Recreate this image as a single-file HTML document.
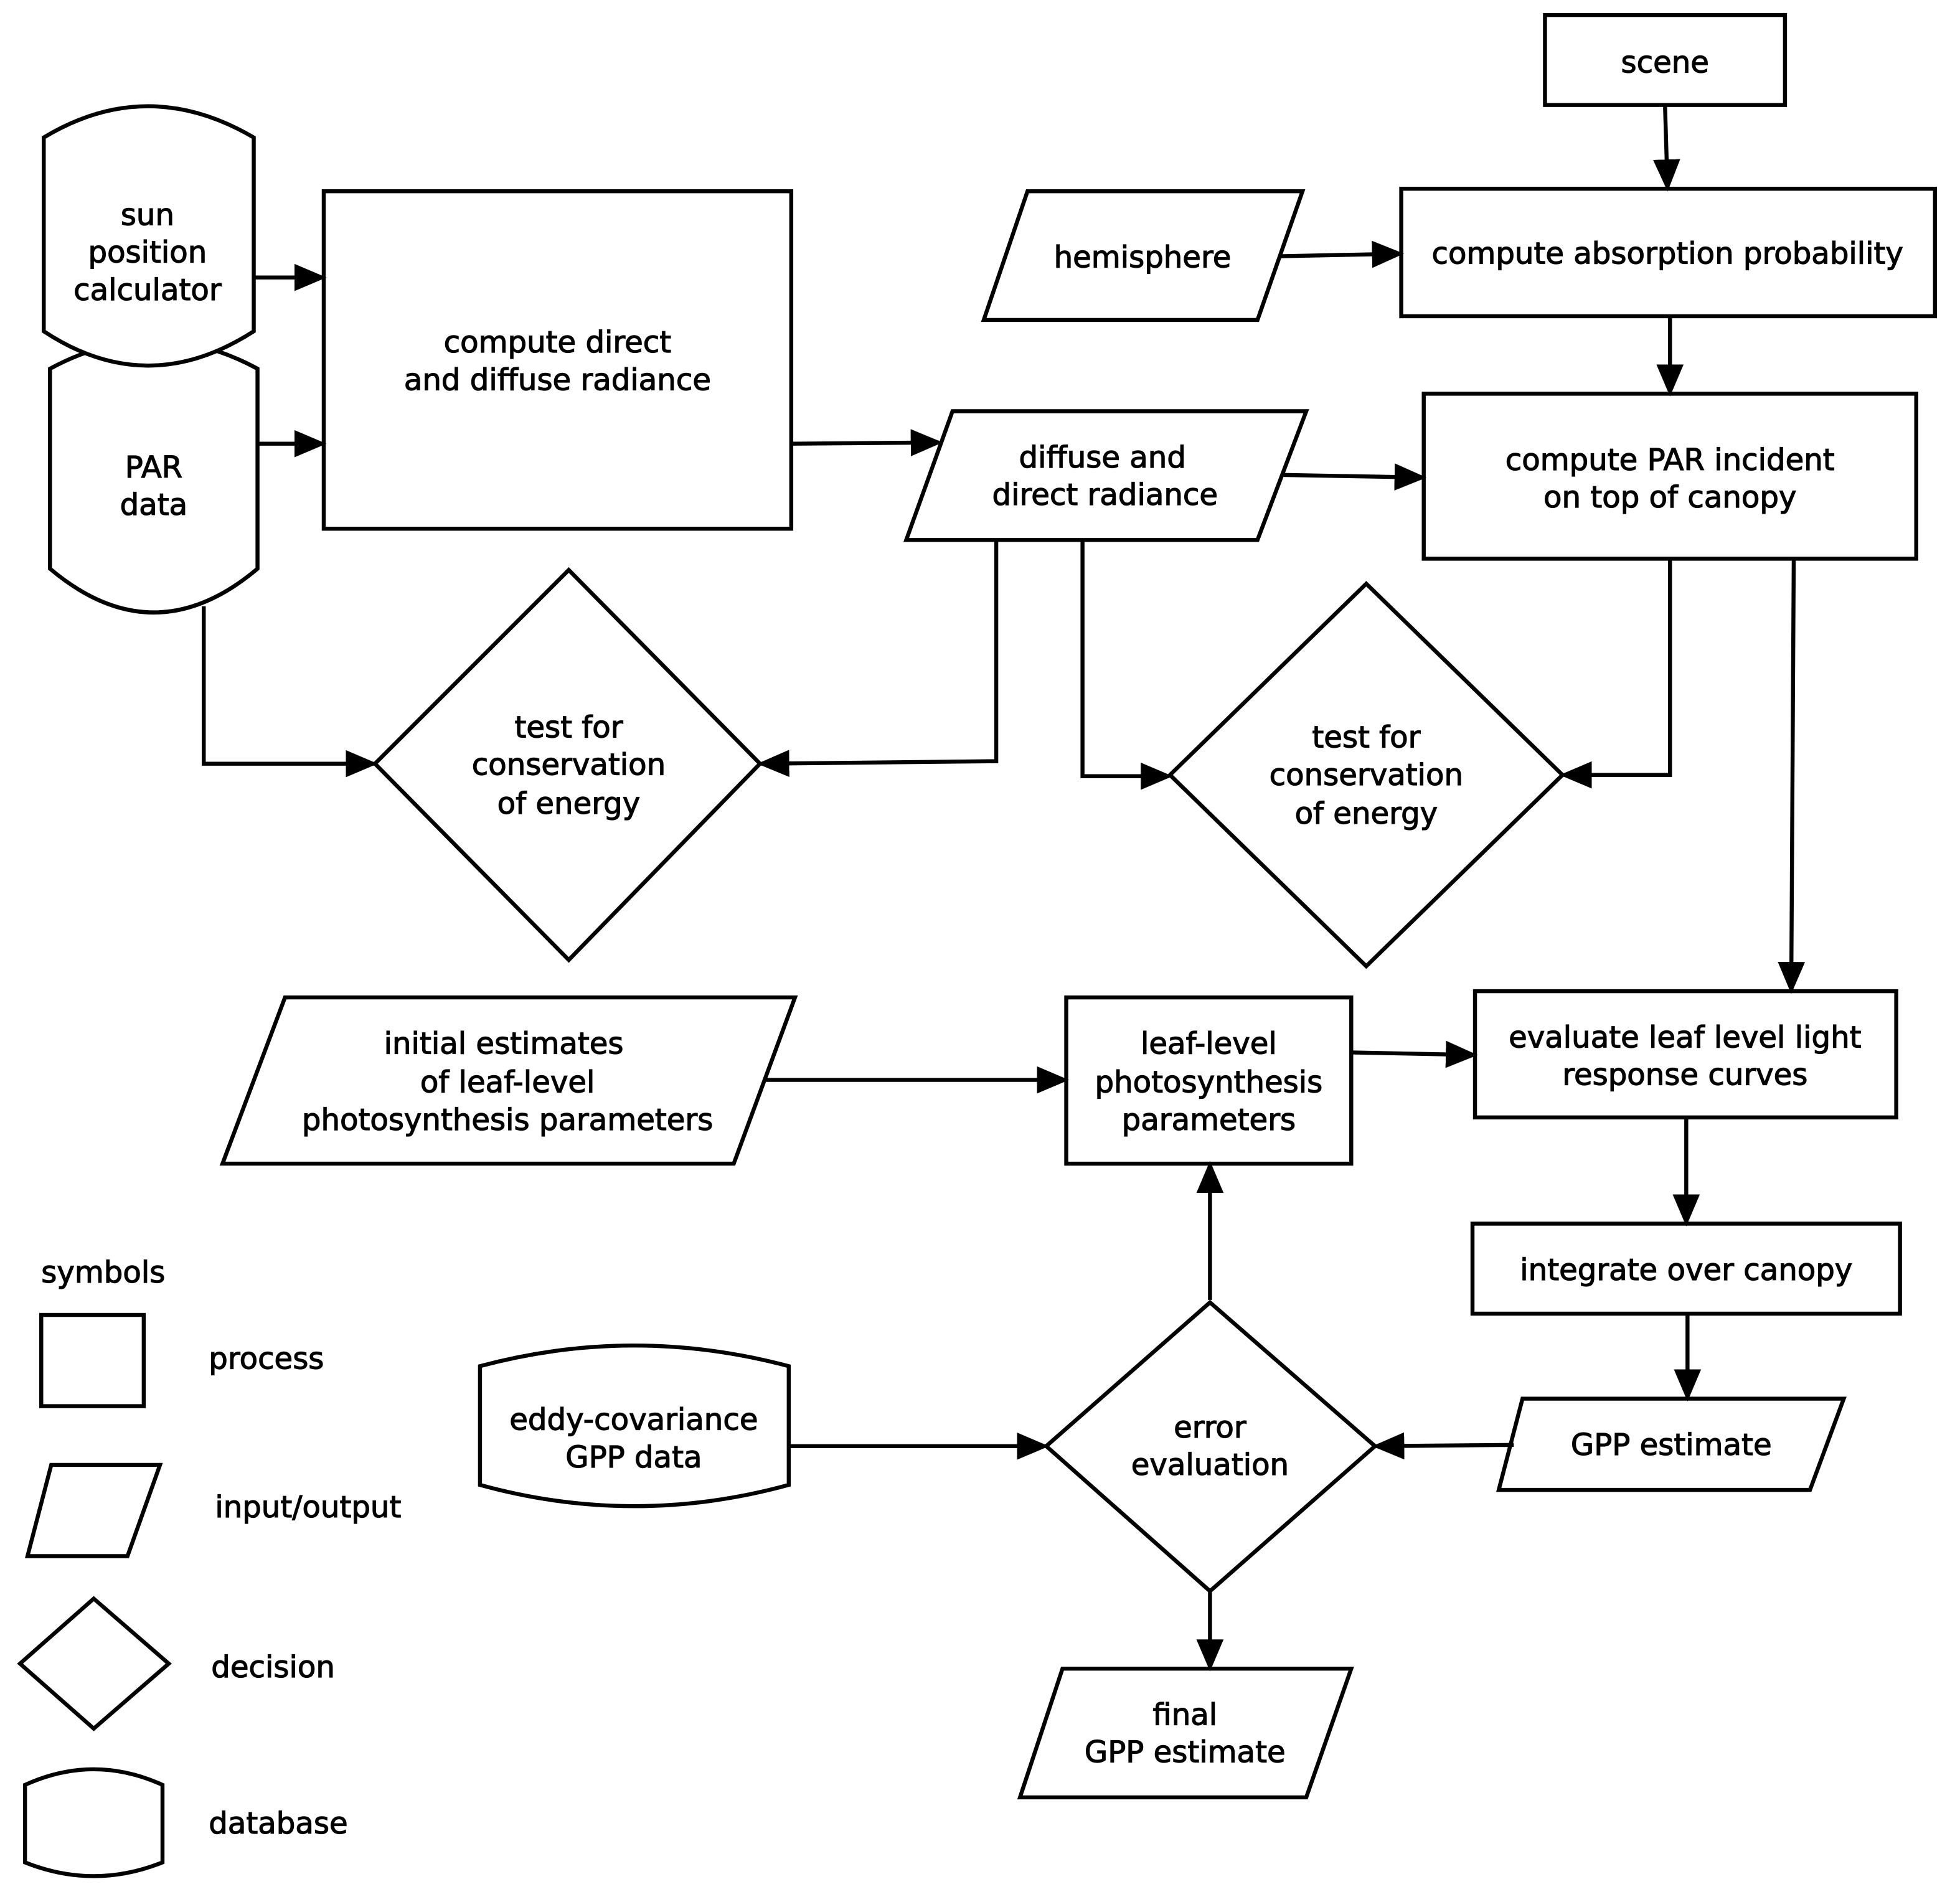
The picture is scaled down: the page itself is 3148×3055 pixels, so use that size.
<!DOCTYPE html>
<html><head><meta charset="utf-8"><style>
html,body{margin:0;padding:0;background:#fff;}
svg{display:block;}
text{font-family:"DejaVu Sans","Liberation Sans",sans-serif;font-size:24px;fill:#000;stroke:#000;stroke-width:0.6;text-anchor:middle;}
.l{text-anchor:start;}
</style></head><body>
<svg width="3148" height="3055" viewBox="0 0 1568 1521.7" preserveAspectRatio="none" xmlns="http://www.w3.org/2000/svg">
<defs><marker id="a" markerWidth="8" markerHeight="8" refX="7" refY="4" orient="auto" markerUnits="strokeWidth"><path d="M0,0.6 L8,4 L0,7.4 Z" fill="#000" stroke="none"/></marker></defs>
<g fill="#fff" stroke="#000" stroke-width="3.2" stroke-linejoin="miter">
<rect x="1236" y="12" width="192" height="72"/>
<rect x="1121" y="151" width="427" height="102"/>
<polygon points="822,153 1042,153 1006,256 787,256"/>
<rect x="1139" y="315" width="394" height="132"/>
<polygon points="762,329 1045,329 1006,432 725,432"/>
<rect x="259" y="153" width="374" height="270"/>
<path d="M40,295 Q123,250 206,295 L206,455 Q123,525 40,455 Z"/>
<path d="M35,110 Q118,60 203,110 L203,265 Q118,320 35,265 Z"/>
<polygon points="455,456 608,611 455,768 300,611"/>
<polygon points="1093,467 1250,620 1093,773 936,620"/>
<rect x="1180" y="793" width="337" height="101"/>
<rect x="853" y="798" width="228" height="133"/>
<polygon points="228,798 636,798 587,931 178,931"/>
<rect x="1178" y="979" width="342" height="72"/>
<polygon points="1218,1119 1475,1119 1448,1192 1199,1192"/>
<polygon points="968,1042 1100,1157 968,1273 837,1157"/>
<polygon points="850,1335 1081,1335 1045,1438 816,1438"/>
<path d="M384,1093 Q507,1060 631,1093 L631,1188 Q507,1222 384,1188 Z"/>
<rect x="33" y="1052" width="82" height="73"/>
<polygon points="41,1172 128,1172 102,1245 22,1245"/>
<polygon points="75,1279 135,1331 75,1383 16,1331"/>
<path d="M20,1428 Q75,1403 130,1428 L130,1490 Q75,1512 20,1490 Z"/>
</g>
<g fill="none" stroke="#000" stroke-width="3.2" marker-end="url(#a)">
<path d="M1332,84 L1334,150"/>
<path d="M1024,205 L1120,203"/>
<path d="M1336,253 L1336,314"/>
<path d="M1027,380 L1138,382"/>
<path d="M633,355 L751,354"/>
<path d="M203,222 L258,222"/>
<path d="M206,355 L258,355"/>
<path d="M163,485 L163,611 L299,611"/>
<path d="M797,432 L797,609 L609,611"/>
<path d="M866,432 L866,621 L935,621"/>
<path d="M1336,447 L1336,620 L1251,620"/>
<path d="M1435,447 L1433,792"/>
<path d="M612,864 L852,864"/>
<path d="M1081,842 L1179,844"/>
<path d="M1349,894 L1349,978"/>
<path d="M1350,1051 L1350,1118"/>
<path d="M1211,1156 L1101,1157"/>
<path d="M968,1040 L968,932"/>
<path d="M968,1273 L968,1334"/>
<path d="M631,1157 L836,1157"/>
</g>
<text x="1332" y="58">scene</text>
<text x="1334" y="211">compute absorption probability</text>
<text x="914" y="214">hemisphere</text>
<text x="1336" y="376">compute PAR incident</text>
<text x="1336" y="406">on top of canopy</text>
<text x="882" y="374">diffuse and</text>
<text x="884" y="404">direct radiance</text>
<text x="446" y="282">compute direct</text>
<text x="446" y="312">and diffuse radiance</text>
<text x="118" y="180">sun</text>
<text x="118" y="210">position</text>
<text x="118" y="240">calculator</text>
<text x="123" y="382">PAR</text>
<text x="123" y="412">data</text>
<text x="455" y="590">test for</text>
<text x="455" y="620">conservation</text>
<text x="455" y="651">of energy</text>
<text x="1093" y="598">test for</text>
<text x="1093" y="628">conservation</text>
<text x="1093" y="659">of energy</text>
<text x="1348" y="838">evaluate leaf level light</text>
<text x="1348" y="868">response curves</text>
<text x="967" y="843">leaf-level</text>
<text x="967" y="874">photosynthesis</text>
<text x="967" y="904">parameters</text>
<text x="403" y="843">initial estimates</text>
<text x="406" y="874">of leaf-level</text>
<text x="406" y="904">photosynthesis parameters</text>
<text x="1349" y="1024">integrate over canopy</text>
<text x="1337" y="1164">GPP estimate</text>
<text x="968" y="1150">error</text>
<text x="968" y="1180">evaluation</text>
<text x="948" y="1380">final</text>
<text x="948" y="1410">GPP estimate</text>
<text x="507" y="1144">eddy-covariance</text>
<text x="507" y="1174">GPP data</text>
<text class="l" x="33" y="1026">symbols</text>
<text class="l" x="167" y="1095">process</text>
<text class="l" x="172" y="1214">input/output</text>
<text class="l" x="169" y="1342">decision</text>
<text class="l" x="167" y="1467">database</text>
</svg>
</body></html>
